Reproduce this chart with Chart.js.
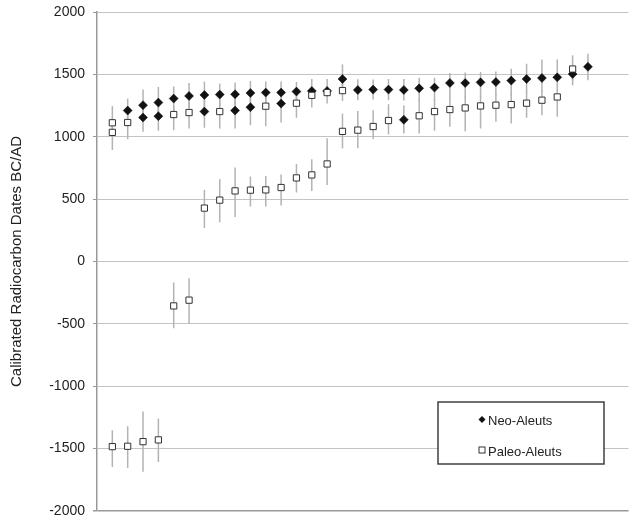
<!DOCTYPE html>
<html>
<head>
<meta charset="utf-8">
<script src="https://cdn.jsdelivr.net/npm/chart.js@4/dist/chart.umd.min.js"></script>
<style>
  html, body { margin: 0; padding: 0; background: #fff; }
  #wrap { width: 634px; height: 520px; position: relative; }
</style>
</head>
<body>
<div id="wrap"><canvas id="c"></canvas></div>
<script>
// ---- Data ----
const seriesNames = ["Neo-Aleuts", "Paleo-Aleuts"];
const yTicks = [-2000, -1500, -1000, -500, 0, 500, 1000, 1500, 2000];
const yTitle = "Calibrated Radiocarbon Dates BC/AD";

// Neo-Aleuts: sample position, calibrated date, error bar low/high
const neoX    = [2, 3, 3, 4, 4, 5, 6, 7, 7, 8, 9, 9, 10, 10, 11, 12, 12, 13, 14, 15, 16, 17, 18, 19, 20, 20, 21, 22, 23, 24, 25, 26, 27, 28, 29, 30, 31, 32];
const neoY    = [1210, 1253, 1154, 1274, 1165, 1306, 1327, 1335, 1202, 1338, 1340, 1210, 1351, 1237, 1354, 1354, 1266, 1362, 1367, 1367, 1463, 1375, 1378, 1378, 1375, 1136, 1388, 1394, 1431, 1431, 1436, 1439, 1450, 1463, 1471, 1476, 1503, 1561];
const neoLow  = [1130, 1170, 1040, 1180, 1048, 1200, 1230, 1240, 1072, 1240, 1250, 1066, 1260, 1093, 1260, 1270, 1114, 1280, 1300, 1320, 1340, 1293, 1298, 1293, 1290, 1027, 1290, 1290, 1320, 1320, 1320, 1330, 1330, 1350, 1360, 1370, 1412, 1452];
const neoHigh = [1306, 1378, 1240, 1399, 1260, 1404, 1431, 1442, 1300, 1426, 1434, 1300, 1447, 1320, 1442, 1442, 1340, 1439, 1463, 1463, 1580, 1460, 1458, 1463, 1463, 1250, 1473, 1473, 1511, 1516, 1519, 1524, 1545, 1585, 1620, 1620, 1560, 1665];

// Paleo-Aleuts
const paleoX    = [1, 1, 1, 2, 2, 3, 4, 5, 5, 6, 6, 7, 8, 8, 9, 10, 11, 11, 12, 13, 13, 14, 14, 15, 15, 16, 16, 17, 18, 19, 21, 22, 23, 24, 25, 26, 27, 28, 29, 30, 31];
const paleoY    = [1112, 1035, -1484, 1114, -1481, -1444, -1430, 1178, -356, 1194, -310, 428, 1202, 492, 566, 572, 1245, 574, 593, 1269, 670, 1332, 694, 1354, 782, 1370, 1043, 1053, 1082, 1130, 1168, 1202, 1218, 1231, 1247, 1253, 1258, 1269, 1293, 1319, 1543];
const paleoLow  = [1000, 894, -1647, 981, -1655, -1685, -1607, 1053, -535, 1066, -500, 269, 1066, 314, 356, 441, 1085, 441, 449, 1152, 553, 1234, 566, 1266, 614, 1287, 907, 907, 981, 1019, 1027, 1048, 1080, 1045, 1066, 1120, 1106, 1152, 1173, 1160, 1450];
const paleoHigh = [1245, 1150, -1353, 1200, -1321, -1203, -1259, 1250, -168, 1280, -134, 574, 1300, 660, 753, 681, 1320, 686, 697, 1340, 782, 1400, 819, 1400, 987, 1450, 1186, 1207, 1213, 1261, 1300, 1300, 1330, 1330, 1330, 1340, 1350, 1360, 1370, 1380, 1652];

const FONT = "'Liberation Sans', Arial, Helvetica, sans-serif";

function toPoints(xs, ys, lows, highs) {
  return xs.map((x, i) => ({ x: x, y: ys[i], lo: lows[i], hi: highs[i] }));
}

// Error bars drawn through the chart's own scales
const errorBars = {
  id: 'errorBars',
  beforeDatasetsDraw(chart) {
    const { ctx, scales: { x, y } } = chart;
    ctx.save();
    ctx.strokeStyle = '#b3b3b3';
    ctx.lineWidth = 1.5;
    chart.data.datasets.forEach(ds => {
      ds.data.forEach(p => {
        const px = x.getPixelForValue(p.x);
        ctx.beginPath();
        ctx.moveTo(px, y.getPixelForValue(p.lo));
        ctx.lineTo(px, y.getPixelForValue(p.hi));
        ctx.stroke();
      });
    });
    ctx.restore();
  }
};

// Boxed legend inside the plot area
const boxLegend = {
  id: 'boxLegend',
  afterDraw(chart) {
    const ctx = chart.ctx;
    const bx = 438, by = 402, bw = 166, bh = 62;
    ctx.save();
    ctx.fillStyle = '#fff';
    ctx.fillRect(bx, by, bw, bh);
    ctx.strokeStyle = '#333';
    ctx.lineWidth = 1.4;
    ctx.strokeRect(bx, by, bw, bh);
    // diamond
    ctx.fillStyle = '#111';
    ctx.beginPath();
    ctx.moveTo(482, 416); ctx.lineTo(485.5, 419.5); ctx.lineTo(482, 423); ctx.lineTo(478.5, 419.5);
    ctx.closePath(); ctx.fill();
    // square
    ctx.fillStyle = '#fff';
    ctx.strokeStyle = '#333';
    ctx.lineWidth = 1;
    ctx.fillRect(479, 447, 6, 6);
    ctx.strokeRect(479, 447, 6, 6);
    ctx.fillStyle = '#222';
    ctx.font = '13px ' + FONT;
    ctx.textBaseline = 'middle';
    ctx.textAlign = 'left';
    ctx.fillText(seriesNames[0], 488, 421.5);
    ctx.fillText(seriesNames[1], 488, 452.5);
    ctx.restore();
  }
};

new Chart(document.getElementById('c'), {
  type: 'scatter',
  data: {
    datasets: [
      {
        label: seriesNames[1],
        data: toPoints(paleoX, paleoY, paleoLow, paleoHigh),
        pointStyle: 'rect',
        pointRadius: 4.4,
        pointHoverRadius: 4.4,
        backgroundColor: '#ffffff',
        borderColor: '#333333',
        pointBorderWidth: 1
      },
      {
        label: seriesNames[0],
        data: toPoints(neoX, neoY, neoLow, neoHigh),
        pointStyle: 'rectRot',
        pointRadius: 4.5,
        pointHoverRadius: 4.5,
        backgroundColor: '#111111',
        borderColor: '#111111',
        pointBorderWidth: 0.5
      }
    ]
  },
  options: {
    responsive: true,
    maintainAspectRatio: false,
    animation: false,
    events: [],
    layout: { padding: { top: 12, bottom: 9, right: 1, left: 0 } },
    plugins: {
      legend: { display: false },
      tooltip: { enabled: false }
    },
    scales: {
      x: {
        type: 'linear',
        min: 0,
        max: 34.65,
        display: false
      },
      y: {
        type: 'linear',
        min: yTicks[0],
        max: yTicks[yTicks.length - 1],
        afterBuildTicks(scale) { scale.ticks = yTicks.map(v => ({ value: v })); },
        afterFit(scale) { scale.width = 97; scale.paddingTop = 0; scale.paddingBottom = 0; },
        ticks: {
          color: '#222',
          font: { family: FONT, size: 14 },
          padding: 8,
          callback: (v) => String(v)
        },
        grid: {
          color: (c) => (c.tick && c.tick.value === yTicks[0]) ? '#999' : '#c4c4c4',
          lineWidth: (c) => (c.tick && c.tick.value === yTicks[0]) ? 1.5 : 1,
          tickLength: 4,
          tickColor: '#999'
        },
        border: { color: '#999', width: 1.5 },
        title: {
          display: true,
          text: yTitle,
          color: '#222',
          font: { family: FONT, size: 15 },
          padding: { top: 8, bottom: 0 }
        }
      }
    }
  },
  plugins: [errorBars, boxLegend]
});
</script>
</body>
</html>
